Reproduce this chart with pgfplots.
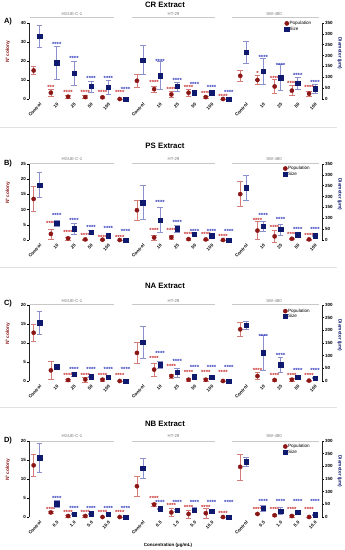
\documentclass[border=0pt]{standalone}
\usepackage{fontspec}
\setmainfont{Liberation Sans}
\usepackage{pgfplots}
\pgfplotsset{compat=1.18}
\usepackage{pgfplotstable}

\definecolor{popc}{RGB}{140,22,22}
\definecolor{popbar}{RGB}{212,125,120}
\definecolor{popstar}{RGB}{200,45,45}
\definecolor{sizec}{RGB}{15,25,110}
\definecolor{sizebar}{RGB}{140,145,205}
\definecolor{sizestar}{RGB}{50,60,190}
\definecolor{grpline}{RGB}{200,200,200}
\definecolor{grptext}{RGB}{120,120,120}
\definecolor{sepline}{RGB}{225,225,225}

\newcommand{\tickfont}{\fontsize{4.5}{5}\selectfont\bfseries}
\newcommand{\labfont}{\fontsize{4.8}{5.5}\selectfont\bfseries}
\newcommand{\legfont}{\fontsize{4.6}{5}\selectfont}
\newcommand{\grpfont}{\fontsize{4.3}{5}\selectfont}
\newcommand{\starfont}{\fontsize{6}{6}\selectfont\bfseries}
\newcommand{\titlefont}{\fontsize{7.8}{9}\selectfont\bfseries}
\newcommand{\letfont}{\fontsize{7.5}{9}\selectfont\bfseries}

% ---------------- data ----------------
\pgfplotstableread{
x pop pe size se
0 15.0 2.0 290 50
1 3.3 1.9 168 75
2 1.2 0.8 118 55
3 1.0 0.8 58 25
4 0.9 0.7 53 32
5 0 0 0 0
6 9.6 3.2 180 67
7 5.2 1.6 108 65
8 2.4 1.7 58 21
9 3.3 1.7 29 8
10 1.0 0.6 29 9
11 0 0 0 0
12 12.2 2.9 215 52
13 10.0 2.4 128 60
14 6.6 3.6 98 60
15 4.4 2.6 72 26
16 2.8 1.3 47 20
}\dataA
\pgfplotstableread{
x y s
1 6.8 ***
2 4.2 ****
3 4.2 ****
4 4.2 ****
5 4.2 ****
7 9.1 ****
8 5.9 ****
9 6.6 ****
10 3.8 ****
11 2.1 ****
13 14.1 *
14 11.5 ****
15 8.9 ****
16 6.5 ****
}\psA
\pgfplotstableread{
x y s
1 257 ****
2 191 ****
3 98 ****
4 98 ****
5 49 ****
7 179 ****
8 89 ****
9 73 ****
10 57 ****
11 37 ****
13 196 ****
14 162 ****
15 112 ****
16 83 ****
}\ssA

\pgfplotstableread{
x pop pe size se
0 13.5 4.1 253 58
1 2.0 1.6 77 15
2 0.55 0.5 52 24
3 0.2 0.2 35 10
4 0.1 0.1 20 4
5 0 0 0 0
6 9.8 3.3 172 78
7 0.8 0.8 92 58
8 0.9 0.7 52 18
9 0.3 0.3 26 7
10 0.2 0.2 20 4
11 0 0 0 0
12 15.1 4.1 241 58
13 3.1 3.0 64 23
14 1.2 2.0 49 25
15 0.4 0.3 25 4
16 0.2 0.2 20 4
}\dataB
\pgfplotstableread{
x y s
1 5.8 ****
2 2.85 ****
3 1.9 ****
4 1.4 ****
5 1.4 ****
7 3.4 ****
8 3.4 ****
9 2.2 ****
10 2.1 ****
11 1.6 ****
13 6.7 ****
14 4.6 ****
15 2.2 ****
16 1.9 ****
}\psB
\pgfplotstableread{
x y s
1 118 ****
2 94 ****
3 64 ****
4 60 ****
5 46 ****
7 180 ****
8 88 ****
9 45 ****
10 46 ****
11 43 ****
13 118 ****
14 100 ****
15 55 ****
16 55 ****
}\ssB

\pgfplotstableread{
x pop pe size se
0 12.7 2.3 230 46
1 2.8 2.35 56 10
2 0.26 0.3 26 7
3 0.4 0.6 17 3
4 0.35 0.4 14 3
5 0 0 0 0
6 7.4 2.7 153 62
7 3.0 1.7 64 12
8 1.3 0.6 34 18
9 0.35 0.4 17 3
10 0.35 0.4 14 3
11 0 0 0 0
12 13.6 1.8 220 14
13 1.3 0.95 111 69
14 0.26 0.3 65 29
15 0.35 0.3 16 4
16 0.1 0.1 12 3
}\dataC
\pgfplotstableread{
x y s
2 1.9 ****
3 1.9 ****
4 1.9 ****
5 1.9 ****
7 6.2 ****
8 4.1 ****
9 2.7 ****
10 2.7 ****
11 2.7 ****
13 3.2 ****
14 1.7 ****
15 1.7 ****
16 1.7 ****
}\psC
\pgfplotstableread{
x y s
2 50 ****
3 50 ****
4 50 ****
5 50 ****
7 112 ****
8 82 ****
9 60 ****
10 60 ****
11 60 ****
13 181 ****
14 107 ****
15 46 ****
16 46 ****
}\ssC

\pgfplotstableread{
x pop pe size se
0 13.6 3.0 234 57
1 1.2 0.3 53 13
2 0.26 0.2 12 2
3 0.26 0.2 13 3
4 0 0 12 3
5 0 0 0 0
6 8.1 2.7 192 41
7 3.3 0.4 32 3
8 1.2 1.1 26 4
9 0.8 1.1 28 9
10 1.0 1.2 24 8
11 0 0 0 0
12 13.2 3.4 218 17
13 0.8 0.2 34 12
14 0.45 0.3 24 13
15 0.26 0.2 18 5
16 0 0 9 3
}\dataD
\pgfplotstableread{
x y s
1 2.4 ****
2 1.6 ****
3 1.6 ****
4 1.6 ****
5 1.6 ****
7 5.1 ****
8 3.3 ****
9 2.8 ****
10 2.8 ****
11 1.2 ****
13 2.2 ****
14 2.2 ****
15 2.2 ****
16 2.2 ****
}\psD
\pgfplotstableread{
x y s
1 78 ****
2 39 ****
3 39 ****
4 39 ****
5 39 ****
7 61 ****
8 61 ****
9 61 ****
10 61 ****
11 61 ****
13 66 ****
14 66 ****
15 66 ****
16 66 ****
}\ssD

% ---------------- styles ----------------
\pgfplotsset{
  base/.style={scale only axis, width=293pt, height=76pt,
    xmin=-0.44, xmax=16.58, ymin=0, clip=false,
    tick label style={font=\tickfont}, /pgf/number format/assume math mode=true,
    tick align=outside, major tick length=2pt,
    tick style={black, line width=0.5pt},
    axis line style={black!85, line width=0.6pt}},
  leftax/.style={base, axis y line*=left, axis x line*=bottom,
    x axis line style={draw=none}, xtick style={draw=none},
    xtick={0,1,2,3,4,6,7,8,9,10,12,13,14,15,16},
    xticklabel style={rotate=45, anchor=north east, inner sep=0pt, yshift=-3pt, xshift=1pt},
    yticklabel style={inner sep=1pt},
    ylabel={N° colony},
    every axis y label/.style={at={(axis description cs:-0.072,0.62)}, rotate=90, anchor=center, font=\labfont, text=popc}},
  rightax/.style={base, axis y line*=right, axis x line=none, xtick=\empty,
    yticklabel style={inner sep=1pt},
    ylabel={Diameter (µm)},
    every axis y label/.style={at={(axis description cs:1.061,0.6)}, rotate=-90, anchor=center, font=\labfont, text=sizec},
    legend cell align=left,
    legend style={draw=none, fill=none, inner sep=0pt, outer sep=0pt, anchor=center,
      font=\legfont, row sep=0.2pt, nodes={inner sep=0.6pt, text height=3.3pt, text depth=0.7pt}}},
  popplot/.style={only marks, mark=*, mark size=2.1pt, color=popc,
    error bars/.cd, y dir=both, y explicit, error mark=-,
    error bar style={draw=popbar, line width=0.5pt},
    error mark options={draw=popbar, rotate=90, mark size=2.8pt, line width=0.5pt}},
  sizeplot/.style={only marks, mark=square*, mark size=2.2pt, color=sizec,
    error bars/.cd, y dir=both, y explicit, error mark=-,
    error bar style={draw=sizebar, line width=0.5pt},
    error mark options={draw=sizebar, rotate=90, mark size=2.8pt, line width=0.5pt}},
  starpop/.style={draw=none, nodes near coords, point meta=explicit symbolic,
    nodes near coords align={center},
    every node near coord/.append style={font=\starfont, text=popstar, inner sep=0pt, yshift=-1.2pt}},
  starsize/.style={draw=none, nodes near coords, point meta=explicit symbolic,
    nodes near coords align={center},
    every node near coord/.append style={font=\starfont, text=sizestar, inner sep=0pt, yshift=-1.2pt}},
  legpop/.style={legend image code/.code={\draw[popc, fill=popc] plot[mark=*, mark size=2.1pt] coordinates {(2pt,0pt)};}},
  legsize/.style={legend image code/.code={\draw[sizec, fill=sizec] plot[mark=square*, mark size=2.1pt] coordinates {(2pt,0pt)};}},
}

\newcommand{\panel}[9]{%
  \begin{axis}[leftax, at={(29pt,#1pt)}, ymax=#5, ytick={#6}, xticklabels={#9}]
    \addplot[popplot] table[x expr=\thisrow{x}-0.17, y=pop, y error=pe] {#2};
    \addplot[starpop] table[x expr=\thisrow{x}-0.17, y=y, meta=s] {#3};
  \end{axis}
  \begin{axis}[rightax, at={(29pt,#1pt)}, ymax=#7, ytick={0,50,...,#7}, legend style={at={(#8)}}]
    \addlegendimage{legpop}\addlegendentry{Population}
    \addlegendimage{legsize}\addlegendentry{Size}
    \addplot[forget plot, sizeplot] table[x expr=\thisrow{x}+0.17, y=size, y error=se] {#2};
    \addplot[forget plot, starsize] table[x expr=\thisrow{x}+0.17, y=y, meta=s] {#4};
  \end{axis}
}

\newcommand{\groups}[2]{% #1 line y, #2 text y
  \draw[grpline, line width=0.7pt] (30pt,#1pt) -- (114pt,#1pt);
  \draw[grpline, line width=0.7pt] (132pt,#1pt) -- (215pt,#1pt);
  \draw[grpline, line width=0.7pt] (232pt,#1pt) -- (319pt,#1pt);
  \node[font=\grpfont, text=grptext, inner sep=0pt] at (72pt,#2pt) {HGUE-C-1};
  \node[font=\grpfont, text=grptext, inner sep=0pt] at (173.5pt,#2pt) {HT-29};
  \node[font=\grpfont, text=grptext, inner sep=0pt] at (274pt,#2pt) {SW-480};
}

\begin{document}
\begin{tikzpicture}
\useasboundingbox (0pt,0pt) rectangle (345pt,550pt);

% Panel A
\node[font=\titlefont, inner sep=0pt] at (165pt,545pt) {CR Extract};
\node[font=\letfont, inner sep=0pt] at (8pt,528.3pt) {A)};
\panel{451}{\dataA}{\psA}{\ssA}{40}{0,10,20,30,40}{350}{0.919,0.959}{Control,10,25,50,100,Control,10,25,50,100,Control,10,25,50,100}
\groups{532.7}{536}
\draw[sepline, line width=0.6pt] (0pt,422.3pt) -- (337pt,422.3pt);

% Panel B
\node[font=\titlefont, inner sep=0pt] at (165pt,404.3pt) {PS Extract};
\node[font=\letfont, inner sep=0pt] at (8pt,386pt) {B)};
\panel{310}{\dataB}{\psB}{\ssB}{25}{0,5,10,15,20,25}{350}{0.914,0.905}{Control,10,25,50,100,Control,10,25,50,100,Control,10,25,50,100}
\groups{387}{391}
\draw[sepline, line width=0.6pt] (0pt,283pt) -- (337pt,283pt);

% Panel C
\node[font=\titlefont, inner sep=0pt] at (165pt,264pt) {NA Extract};
\node[font=\letfont, inner sep=0pt] at (8pt,246pt) {C)};
\panel{169}{\dataC}{\psC}{\ssC}{20}{0,5,10,15,20}{300}{0.914,0.884}{Control,10,25,50,100,Control,10,25,50,100,Control,10,25,50,100}
\groups{245.7}{249.3}
\draw[sepline, line width=0.6pt] (0pt,143pt) -- (337pt,143pt);

% Panel D
\node[font=\titlefont, inner sep=0pt] at (165pt,126pt) {NB Extract};
\node[font=\letfont, inner sep=0pt] at (8pt,109pt) {D)};
\panel{33}{\dataD}{\psD}{\ssD}{20}{0,5,10,15,20}{300}{0.914,0.892}{Control,0.5,1.0,5.0,10.0,Control,0.5,1.0,5.0,10.0,Control,0.5,1.0,5.0,10.0}
\groups{108.7}{113.5}

\node[font=\tickfont, inner sep=0pt] at (168pt,5pt) {Concentration (µg/mL)};
\end{tikzpicture}
\end{document}
